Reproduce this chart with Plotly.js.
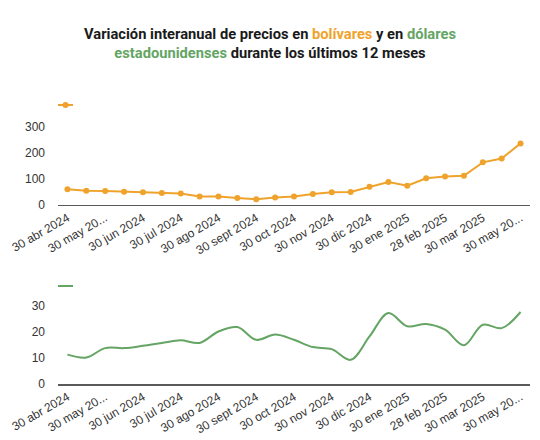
<!DOCTYPE html>
<html>
<head>
<meta charset="utf-8">
<script src="https://cdn.plot.ly/plotly-3.0.1.min.js"></script>
<style>html,body{margin:0;padding:0;background:#fff;}#chart{width:540px;height:440px;}</style>
</head>
<body>
<div id="chart"></div>
<script>
// 25 periods (semi-monthly observations)
const periods = [
  '30 abr 2024','15 may 2024','30 may 2024','15 jun 2024','30 jun 2024','15 jul 2024','30 jul 2024',
  '15 ago 2024','30 ago 2024','15 sept 2024','30 sept 2024','15 oct 2024','30 oct 2024',
  '15 nov 2024','30 nov 2024','15 dic 2024','30 dic 2024','15 ene 2025','30 ene 2025',
  '15 feb 2025','28 feb 2025','15 mar 2025','30 mar 2025','15 may 2025','30 may 2025'
];
// Labelled periods and their tick texts
const tickPeriods = ['30 abr 2024','30 may 2024','30 jun 2024','30 jul 2024','30 ago 2024','30 sept 2024',
  '30 oct 2024','30 nov 2024','30 dic 2024','30 ene 2025','28 feb 2025','30 mar 2025','30 may 2025'];
const tickLabels = ['30 abr 2024','30 may 20...','30 jun 2024','30 jul 2024','30 ago 2024','30 sept 2024',
  '30 oct 2024','30 nov 2024','30 dic 2024','30 ene 2025','28 feb 2025','30 mar 2025','30 may 20...'];
// Year-on-year variation (%) in bolívares
const bolivares = [61, 55, 54, 51, 49, 46, 44, 33, 33, 27, 22, 29, 33, 42, 49, 50, 70, 88, 74, 103, 110, 112, 164, 179, 237];
// Year-on-year variation (%) in US dollars
const dolares = [11.3, 10.2, 13.8, 13.8, 14.7, 15.8, 16.8, 15.8, 20.2, 21.9, 17.0, 19.0, 17.0, 14.2, 13.4, 9.3, 18.3, 27.3, 22.2, 23.1, 20.9, 14.9, 22.8, 21.5, 27.7];

const ORANGE = '#efa32c';
const GREEN = '#64a564';

const traces = [
  {x: periods, y: bolivares, type: 'scatter', mode: 'lines+markers', name: '',
   line: {color: ORANGE, width: 2}, marker: {color: ORANGE, size: 6},
   xaxis: 'x', yaxis: 'y', legend: 'legend'},
  {x: periods, y: dolares, type: 'scatter', mode: 'lines', name: '',
   line: {color: GREEN, width: 2, shape: 'spline', smoothing: 1},
   xaxis: 'x2', yaxis: 'y2', legend: 'legend2'}
];

const tickFont = {family: 'Liberation Sans, Arial, sans-serif', size: 12, color: '#333'};
const xCommon = {
  type: 'category', categoryorder: 'array', categoryarray: periods,
  tickmode: 'array', tickvals: tickPeriods, ticktext: tickLabels, tickangle: -30,
  showline: true, linecolor: '#5a5a5a', linewidth: 1.5, showgrid: false, zeroline: false,
  ticks: '', tickfont: tickFont, range: [-0.5, 24.5], fixedrange: true, automargin: false
};
const yCommon = {
  showgrid: false, zeroline: false, showline: false, ticks: '',
  tickfont: tickFont, ticklabelstandoff: 12, fixedrange: true, automargin: false
};

const layout = {
  width: 540, height: 440,
  margin: {l: 58, r: 10, t: 114, b: 56, autoexpand: false},
  paper_bgcolor: '#fff', plot_bgcolor: '#fff',
  showlegend: true,
  title: {
    text: '<b>Variación interanual de precios en <span style="color:' + ORANGE + '">bolívares</span> y en <span style="color:' + GREEN + '">dólares</span><br><span style="color:' + GREEN + '">estadounidenses</span> durante los últimos 12 meses</b>',
    font: {family: 'Roboto, sans-serif', size: 14.7, color: '#1a1a1a'},
    x: 0.5, xanchor: 'center', y: 0.912, yanchor: 'top', yref: 'container'
  },
  xaxis: Object.assign({}, xCommon, {anchor: 'y'}),
  yaxis: Object.assign({}, yCommon, {domain: [0.663, 1], range: [0, 350], tickvals: [0, 100, 200, 300], anchor: 'x'}),
  xaxis2: Object.assign({}, xCommon, {anchor: 'y2'}),
  yaxis2: Object.assign({}, yCommon, {domain: [0, 0.337], range: [0, 35], tickvals: [0, 10, 20, 30], anchor: 'x2'}),
  legend: {x: 0, xref: 'paper', y: 1 - 105 / 440, yref: 'container', yanchor: 'middle', xanchor: 'left',
           bgcolor: 'rgba(0,0,0,0)', font: {size: 1}},
  legend2: {x: 0, xref: 'paper', y: 1 - 286 / 440, yref: 'container', yanchor: 'middle', xanchor: 'left',
            bgcolor: 'rgba(0,0,0,0)', font: {size: 1}}
};

Plotly.newPlot('chart', traces, layout, {displayModeBar: false, staticPlot: true}).then(function (gd) {
  // shorten the legend keys to the compact style of the original
  gd.querySelectorAll('.legendlines path').forEach(function (p) { p.setAttribute('d', 'M0,0h15'); });
  gd.querySelectorAll('.legendpoints path').forEach(function (p) { p.setAttribute('transform', 'translate(7.5,0)'); });
});
</script>
</body>
</html>
